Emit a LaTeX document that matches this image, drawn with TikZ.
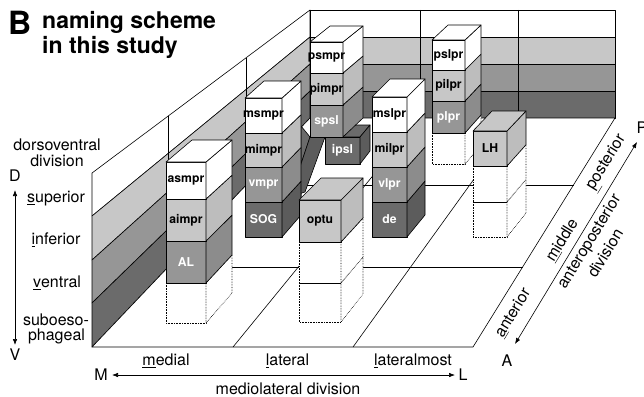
\documentclass[tikz,border=0pt]{standalone}
\usepackage{fontspec}
\setmainfont{TeX Gyre Heros}
\usetikzlibrary{arrows.meta}
\definecolor{gL}{gray}{0.78}
\definecolor{gM}{gray}{0.59}
\definecolor{gD}{gray}{0.42}
\definecolor{gLs}{gray}{0.74}
\definecolor{gMs}{gray}{0.55}
\definecolor{gDs}{gray}{0.36}
\newcommand\cel[9]{%
  \filldraw[ln,fill=#8] (#1,#3) rectangle (#2,#4);
  \filldraw[ln,fill=#9] (#2,#3) -- ({#2+#5},{#3+#6}) -- ({#2+#5},{#4+#7}) -- (#2,#4) -- cycle;}
\newcommand\dcel[7]{%
  \filldraw[dl,fill=white] (#1,#3) rectangle (#2,#4);
  \filldraw[dl,fill=white] (#2,#3) -- ({#2+#5},{#3+#6}) -- ({#2+#5},{#4+#7}) -- (#2,#4) -- cycle;}
\newcommand\topf[6]{%
  \filldraw[ln,fill=#6] (#1,#3) -- ({#1+#4},{#3+#5}) -- ({#2+#4},{#3+#5}) -- (#2,#3) -- cycle;}
\begin{document}
\begin{tikzpicture}[x=1pt,y=-1pt,
  ln/.style={draw=black,line width=0.6pt,line join=round},
  dl/.style={draw=black,line width=0.6pt,densely dotted},
  blab/.style={font=\fontsize{12.2}{12}\selectfont\bfseries,inner sep=0pt},
  wlab/.style={blab,text=white},
  lab/.style={font=\fontsize{16}{16}\selectfont,inner sep=0pt},
  rlab/.style={lab,rotate=58.6},
  arr/.style={line width=0.6pt,{Latex[length=6pt,width=4.5pt]}-{Latex[length=6pt,width=4.5pt]}}]
\useasboundingbox (0,0) rectangle (644,396);
\fill[white] (0,0) rectangle (644,396);
% left wall
\filldraw[ln,fill=white] (92,173) -- (310,10) -- (310,37) -- (92,216) -- cycle;
\filldraw[ln,fill=gL] (92,216) -- (310,37) -- (310,64) -- (92,260) -- cycle;
\filldraw[ln,fill=gM] (92,260) -- (310,64) -- (310,91) -- (92,303) -- cycle;
\filldraw[ln,fill=gD] (92,303) -- (310,91) -- (310,118) -- (92,347) -- cycle;
% back wall
\filldraw[ln,fill=white] (310,10) rectangle (615,37);
\filldraw[ln,fill=gL] (310,37) rectangle (615,64);
\filldraw[ln,fill=gM] (310,64) rectangle (615,91);
\filldraw[ln,fill=gD] (310,91) rectangle (615,118);
% floor
\filldraw[ln,fill=white] (92,347) -- (473,347) -- (615,118) -- (310,118) -- cycle;
\draw[ln] (233,347) -- (420,118);
\draw[ln] (353,347) -- (518,118);
\draw[ln] (168,267) -- (523,267);
\draw[ln] (246,185) -- (574,185);
% wall dividers
\draw[ln] (168,116) -- (168,267);
\draw[ln] (246,58) -- (246,185);
\draw[ln] (420,10) -- (420,118);
\draw[ln] (518,10) -- (518,118);
% ramp and ipsl
\filldraw[ln,fill=gD] (301,126) -- (310,137) -- (290,197) -- (301,212) -- cycle;
\filldraw[ln,fill=gDs] (310,137) -- (325,137) -- (305,192) -- (290,197) -- cycle;
\topf{325}{360}{137}{10}{-12}{gD}
\cel{325}{360}{137}{164}{10}{-12}{-13}{gD}{gDs}
\node[wlab] (ipsl) at (342.5,150.5) {ipsl};
% column C (medial posterior)
\cel{310}{343}{105}{137}{20}{-18}{-19}{gM}{gMs}
\cel{310}{343}{73}{105}{20}{-17}{-18}{gL}{gLs}
\cel{310}{343}{42}{73}{20}{-16}{-17}{white}{white}
\topf{310}{343}{42}{20}{-16}{white}
\node[blab] (psmpr) at (326.5,57.5) {psmpr};
\node[blab] (pimpr) at (326.5,89) {pimpr};
\node[wlab] (spsl) at (326.5,121) {spsl};
% column F (lateral posterior)
\dcel{432}{465}{133}{164}{16}{-18}{-19}
\cel{432}{465}{101}{133}{16}{-17}{-18}{gM}{gMs}
\cel{432}{465}{70}{101}{16}{-16}{-17}{gL}{gLs}
\cel{432}{465}{40}{70}{16}{-15}{-16}{white}{white}
\topf{432}{465}{40}{16}{-15}{white}
\node[blab] (pslpr) at (448.5,55) {pslpr};
\node[blab] (pilpr) at (448.5,85.5) {pilpr};
\node[wlab] (plpr) at (448.5,117) {plpr};
% column G (LH)
\dcel{473}{507}{202}{237}{19}{-22.7}{-24}
\dcel{473}{507}{166}{202}{19}{-21.3}{-22.7}
\cel{473}{507}{131}{166}{19}{-20}{-21.3}{gL}{gLs}
\topf{473}{507}{131}{19}{-20}{gL}
\node[blab] (LH) at (490,148.5) {LH};
% column E (lateral middle)
\cel{372}{407}{202}{237}{18}{-21}{-22}{gD}{gDs}
\cel{372}{407}{167}{202}{18}{-20}{-21}{gM}{gMs}
\cel{372}{407}{132}{167}{18}{-19}{-20}{gL}{gLs}
\cel{372}{407}{97}{132}{18}{-18}{-19}{white}{white}
\topf{372}{407}{97}{18}{-18}{white}
\node[blab] (mslpr) at (389.5,114.5) {mslpr};
\node[blab] (milpr) at (389.5,149.5) {milpr};
\node[wlab] (vlpr) at (389.5,184.5) {vlpr};
\node[wlab] (de) at (389.5,219.5) {de};
% column B (medial middle)
\cel{245}{282}{202}{237}{19}{-20.7}{-22}{gD}{gDs}
\cel{245}{282}{167}{202}{19}{-19.5}{-20.7}{gM}{gMs}
\cel{245}{282}{133}{167}{19}{-18.3}{-19.5}{gL}{gLs}
\cel{245}{282}{98}{133}{19}{-17}{-18.3}{white}{white}
\topf{245}{282}{98}{19}{-17}{white}
\node[blab] (msmpr) at (263.5,115.5) {msmpr};
\node[blab] (mimpr) at (263.5,150) {mimpr};
\node[wlab] (vmpr) at (263.5,184.5) {vmpr};
\node[wlab] (SOG) at (263.5,219.5) {SOG};
% column D (optu)
\dcel{299}{341}{283}{322}{22}{-26}{-28}
\dcel{299}{341}{242}{283}{22}{-24}{-26}
\cel{299}{341}{200}{242}{22}{-22}{-24}{gL}{gLs}
\topf{299}{341}{200}{22}{-22}{gL}
\node[blab] (optu) at (320,221) {optu};
% column A (medial anterior)
\dcel{166}{206}{283}{323}{26}{-28}{-30}
\cel{166}{206}{241}{283}{26}{-25.9}{-28}{gM}{gMs}
\cel{166}{206}{199}{241}{26}{-23.8}{-25.9}{gL}{gLs}
\cel{166}{206}{162}{199}{26}{-22}{-23.8}{white}{white}
\topf{166}{206}{162}{26}{-22}{white}
\node[blab] (asmpr) at (186,180.5) {asmpr};
\node[blab] (aimpr) at (186,220) {aimpr};
\node[wlab] (AL) at (186,262) {AL};
% title
\node[anchor=base west,inner sep=0pt,font=\fontsize{32}{32}\selectfont\bfseries] (tB) at (8,35) {B};
\node[anchor=base west,inner sep=0pt,font=\fontsize{23}{23}\selectfont\bfseries] (t1) at (42,29) {naming scheme};
\node[anchor=base west,inner sep=0pt,font=\fontsize{23}{23}\selectfont\bfseries] (t2) at (42,53) {in this study};
% dorsoventral
\node[lab,align=center] (dvdiv) at (57,153) {dorsoventral\\division};
\node[lab] (D) at (15,176) {D};
\node[lab] (V) at (15,355) {V};
\coordinate (dvT) at (15,190);
\coordinate (dvB) at (15,345);
\draw[arr] (dvT) -- (dvB);
\node[lab] (sup) at (56,199) {\underline{s}uperior};
\node[lab] (inf) at (56,240) {\underline{i}nferior};
\node[lab] (ven) at (57,283) {\underline{v}entral};
\node[lab] (sub1) at (56,320) {suboeso-};
\node[lab] (sub2) at (56.5,336) {phageal};
% mediolateral
\node[lab] (med) at (166,361) {\underline{m}edial};
\node[lab] (lat) at (287.5,361) {\underline{l}ateral};
\node[lab] (latm) at (413,361) {\underline{l}ateralmost};
\node[lab] (M) at (101,375) {M};
\node[lab] (L) at (463,375) {L};
\coordinate (mlM) at (112,375);
\coordinate (mlL) at (455,375);
\draw[arr] (mlM) -- (mlL);
\node[lab] (mldiv) at (288,388.5) {mediolateral division};
% anteroposterior
\node[lab] (A) at (507,361) {A};
\node[lab] (P) at (642,128) {P};
\coordinate (apA) at (515,344);
\coordinate (apP) at (637,142);
\draw[arr] (apA) -- (apP);
\node[rlab] (ant) at (513,313) {\underline{a}nterior};
\node[rlab] (mid) at (562,240) {\underline{m}iddle};
\node[rlab] (post) at (607,163) {\underline{p}osterior};
\node[rlab] (apdiv1) at (590,242) {anteroposterior};
\node[rlab] (apdiv2) at (605,253) {division};
\end{tikzpicture}
\end{document}
